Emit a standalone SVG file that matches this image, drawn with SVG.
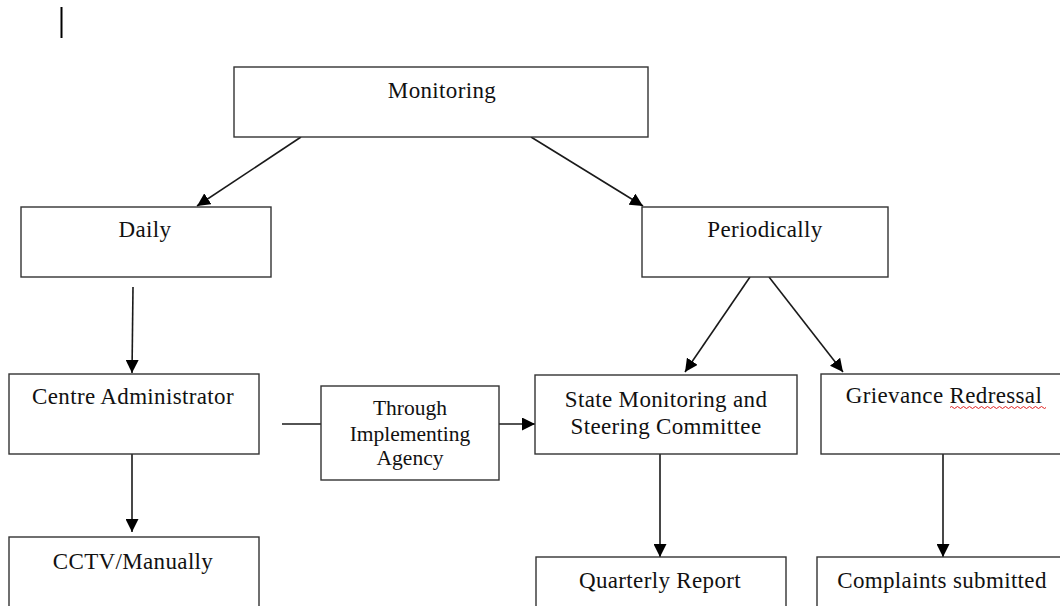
<svg xmlns="http://www.w3.org/2000/svg" width="1060" height="606" viewBox="0 0 1060 606">
<style>
  .box { fill: #ffffff; stroke: #333333; stroke-width: 1.4; }
  .lbl { font-family: "Liberation Serif", "Times New Roman", serif; font-size: 23px; fill: #111111; text-anchor: middle; letter-spacing: 0.35px; }
  .sm { font-size: 21.5px; letter-spacing: 0px; }
  .con { stroke: #1a1a1a; stroke-width: 1.6; fill: none; }
</style>
<defs>
  <marker id="arr" viewBox="0 0 12 12" refX="12" refY="6" markerWidth="13" markerHeight="13" markerUnits="userSpaceOnUse" orient="auto">
    <path d="M0,0 L12,6 L0,12 z" fill="#000000"/>
  </marker>
</defs>
<rect width="1060" height="606" fill="#ffffff"/>
<line x1="61.5" y1="7" x2="61.5" y2="38" stroke="#000000" stroke-width="2"/>

<g id="connectors">
  <line class="con" x1="301" y1="137" x2="197" y2="206" marker-end="url(#arr)"/>
  <line class="con" x1="531" y1="137" x2="643" y2="206" marker-end="url(#arr)"/>
  <line class="con" x1="133" y1="287" x2="132" y2="373" marker-end="url(#arr)"/>
  <line class="con" x1="132" y1="454" x2="132" y2="532" marker-end="url(#arr)"/>
  <line class="con" x1="282" y1="424" x2="321" y2="424"/>
  <line class="con" x1="499" y1="424" x2="535" y2="424" marker-end="url(#arr)"/>
  <line class="con" x1="750" y1="277" x2="685" y2="372" marker-end="url(#arr)"/>
  <line class="con" x1="769" y1="277" x2="843" y2="372" marker-end="url(#arr)"/>
  <line class="con" x1="660" y1="454" x2="660" y2="557" marker-end="url(#arr)"/>
  <line class="con" x1="943" y1="454" x2="943" y2="557" marker-end="url(#arr)"/>
</g>

<g id="monitoring">
  <rect class="box" x="234" y="67" width="414" height="70"/>
  <text class="lbl" x="442" y="98">Monitoring</text>
</g>
<g id="daily">
  <rect class="box" x="21" y="207" width="250" height="70"/>
  <text class="lbl" x="145" y="237">Daily</text>
</g>
<g id="periodically">
  <rect class="box" x="642" y="207" width="246" height="70"/>
  <text class="lbl" x="765" y="237">Periodically</text>
</g>
<g id="centre-administrator">
  <rect class="box" x="9" y="374" width="250" height="80"/>
  <text class="lbl" x="133" y="404">Centre Administrator</text>
</g>
<g id="through-implementing-agency">
  <rect class="box" x="321" y="386" width="178" height="94"/>
  <text class="lbl sm" x="410" y="415">Through</text>
  <text class="lbl sm" x="410" y="441">Implementing</text>
  <text class="lbl sm" x="410" y="465">Agency</text>
</g>
<g id="state-monitoring">
  <rect class="box" x="535" y="375" width="262" height="79"/>
  <text class="lbl" x="666" y="407">State Monitoring and</text>
  <text class="lbl" x="666" y="434">Steering Committee</text>
</g>
<g id="grievance-redressal">
  <rect class="box" x="821" y="374" width="260" height="80"/>
  <text class="lbl" x="944" y="403">Grievance Redressal</text>
  <path d="M950,407.5 q1.5,-2 3,0 t3,0 t3,0 t3,0 t3,0 t3,0 t3,0 t3,0 t3,0 t3,0 t3,0 t3,0 t3,0 t3,0 t3,0 t3,0 t3,0 t3,0 t3,0 t3,0 t3,0 t3,0 t3,0 t3,0 t3,0 t3,0 t3,0 t3,0 t3,0 t3,0 t3,0 t3,0" fill="none" stroke="#e02020" stroke-width="1"/>
</g>
<g id="cctv-manually">
  <rect class="box" x="9" y="537" width="250" height="80"/>
  <text class="lbl" x="133" y="569">CCTV/Manually</text>
</g>
<g id="quarterly-report">
  <rect class="box" x="536" y="557" width="250" height="60"/>
  <text class="lbl" x="660" y="588">Quarterly Report</text>
</g>
<g id="complaints-submitted">
  <rect class="box" x="817" y="557" width="260" height="60"/>
  <text class="lbl" x="942" y="588">Complaints submitted</text>
</g>
</svg>
